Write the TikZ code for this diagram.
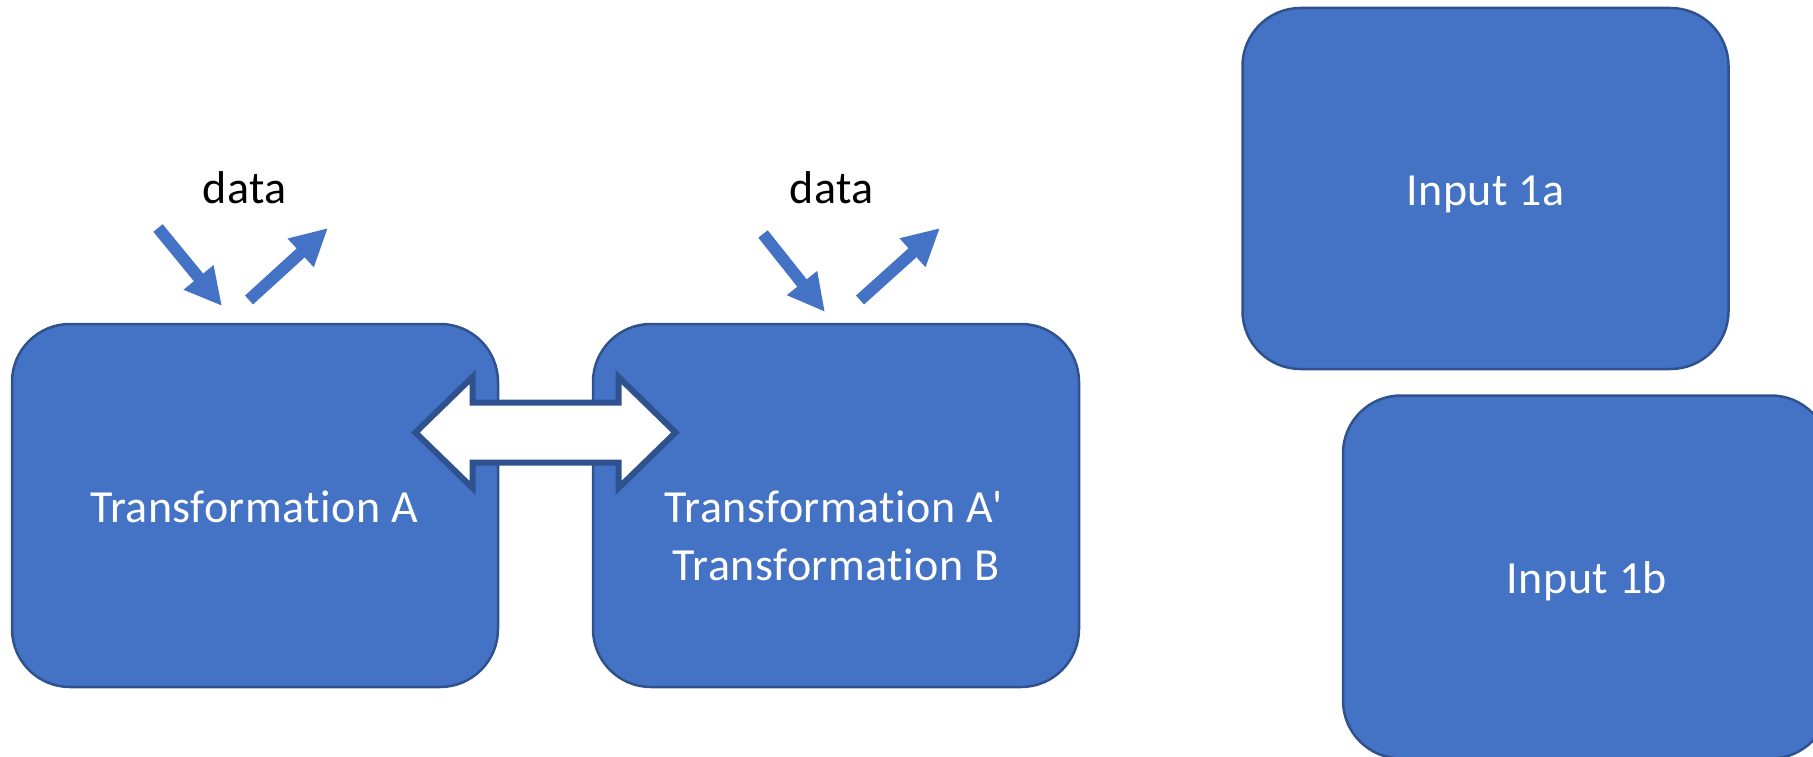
\documentclass[tikz,border=0pt]{standalone}
\usepackage{fontspec}
\setmainfont{Carlito}[Ligatures={NoCommon}, LetterSpace=1]
\usetikzlibrary{arrows.meta,calc}
\definecolor{boxblue}{HTML}{4472C4}
\definecolor{boxedge}{HTML}{2F528F}
\tikzset{
  blockbox/.style={draw=boxedge, line width=2.5pt, fill=boxblue, rounded corners=58pt,
    inner sep=0pt, minimum width=486pt, minimum height=363pt},
  boxlabel/.style={text=white, inner sep=0pt, anchor=base, font=\fontsize{46}{56}\selectfont},
  datalabel/.style={text=black, inner sep=0pt, anchor=base, font=\fontsize{46}{56}\selectfont},
  dataarrow/.style={draw=boxblue, line width=12pt, -{Triangle[length=37pt,width=36pt]}},
  bigarrow/.style={draw=boxedge, line width=6pt, fill=white, line join=miter}
}
\begin{document}
\begin{tikzpicture}[x=1pt,y=-1pt]
\useasboundingbox (0,0) rectangle (1813,757);
\clip (0,0) rectangle (1813,757);
% boxes
\node[blockbox] (A) at (255,505.5) {};
\node[blockbox] (B) at (836,505.5) {};
\node[blockbox, minimum height=361pt] (I1a) at (1485.5,188.5) {};
\node[blockbox] (I1b) at (1586,577) {};
% labels
\node[boxlabel] (tA) at (254,522) {Transformation A};
\node[boxlabel] (tB1) at (834,522) {Transformation A\textquotesingle};
\node[boxlabel] (tB2) at (836,580) {Transformation B};
\node[boxlabel] (t1a) at (1485.5,205) {Input 1a};
\node[boxlabel] (t1b) at (1587,593) {Input 1b};
% data labels
\node[datalabel] (d1) at (245,203) {data};
\node[datalabel] (d2) at (832,204) {data};
% data arrows
\coordinate (a1s) at (158,228);
\coordinate (a1e) at (222,306);
\coordinate (a2s) at (249,300);
\coordinate (a2e) at (328,228);
\coordinate (b1s) at (763,234);
\coordinate (b1e) at (825,312);
\coordinate (b2s) at (860,300);
\coordinate (b2e) at (940,228);
\draw[dataarrow] (a1s) -- (a1e);
\draw[dataarrow] (a2s) -- (a2e);
\draw[dataarrow] (b1s) -- (b1e);
\draw[dataarrow] (b2s) -- (b2e);
% double block arrow between A and B
\coordinate (mid) at ($(A.east)!0.5!(B.west)+(0,-73)$);
\draw[bigarrow] (mid) ++(-130,0) -- ++(57,-55.5) -- ++(0,25.5) -- ++(146,0) -- ++(0,-25.5)
  -- ++(57,55.5) -- ++(-57,55.5) -- ++(0,-25.5) -- ++(-146,0) -- ++(0,25.5) -- cycle;
\end{tikzpicture}
\end{document}
